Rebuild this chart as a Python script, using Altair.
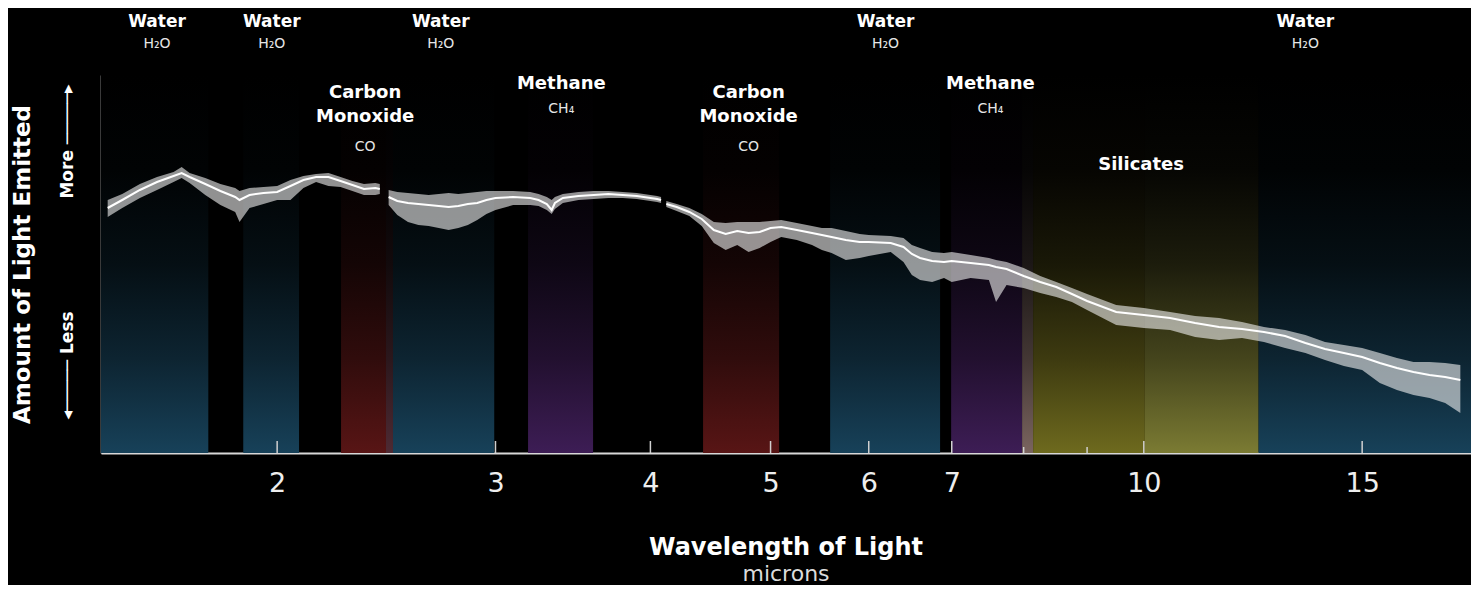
import altair as alt
import pandas as pd

# ---------------- data ----------------
# spectrum, three separate segments (gaps at ~2.45 and ~4.1 microns)
# flux in arbitrary units (0 = bottom of plot, 378 = top)
seg1_um = [1.46, 1.50, 1.55, 1.60, 1.65, 1.675, 1.70, 1.75, 1.80, 1.85, 1.865, 1.90,
           1.95, 2.00, 2.05, 2.10, 2.15, 2.20, 2.25, 2.30, 2.35, 2.40, 2.42]
seg1_mid = [245, 253, 263, 271, 277, 280, 276, 269, 262, 256, 253, 258,
            260, 261, 267, 273, 276, 276, 272, 268, 264, 265, 264]
seg1_hi = [253, 259, 269, 276, 281, 286, 280, 275, 269, 265, 262, 265,
           266, 267, 273, 277, 279, 280, 276, 272, 269, 270, 269]
seg1_lo = [236, 245, 255, 263, 271, 275, 270, 258, 248, 241, 231, 245,
           249, 253, 253, 265, 271, 267, 266, 262, 258, 258, 259]

seg2_um = [2.46, 2.50, 2.55, 2.60, 2.65, 2.70, 2.75, 2.80, 2.85, 2.90, 2.95, 3.00, 3.10,
           3.20, 3.25, 3.30, 3.33, 3.35, 3.40, 3.50, 3.60, 3.70, 3.80, 3.90, 4.00, 4.05, 4.08]
seg2_mid = [256, 252, 250, 249, 248, 247, 246, 247, 249, 250, 253, 255, 256,
            255, 253, 249, 243, 250, 255, 257, 258, 259, 258, 257, 255, 254, 253]
seg2_hi = [263, 261, 260, 259, 258, 259, 260, 259, 260, 261, 262, 262, 262,
           261, 259, 256, 253, 256, 259, 261, 262, 262, 261, 260, 258, 257, 256]
seg2_lo = [248, 238, 231, 228, 227, 225, 223, 225, 228, 233, 239, 243, 248,
           248, 247, 243, 239, 244, 250, 253, 254, 255, 255, 254, 252, 251, 250]

seg3_um = [4.12, 4.20, 4.30, 4.40, 4.50, 4.60, 4.70, 4.80, 4.90, 5.00,
           5.10, 5.25, 5.40, 5.50, 5.60, 5.75, 5.90,
           6.00, 6.25, 6.40, 6.50, 6.60, 6.75, 6.90,
           7.00, 7.25, 7.50, 7.60, 7.75, 8.00, 8.25, 8.50, 8.75,
           9.00, 9.50, 10.0, 10.5, 11.0, 11.5, 12.0, 12.5, 13.0, 13.5, 14.0, 14.5,
           15.0, 15.5, 16.0, 16.5, 17.0, 17.5, 18.0]
seg3_mid = [249, 246, 241, 234, 223, 219, 222, 220, 221, 225,
            226, 223, 220, 218, 216, 213, 211,
            211, 210, 206, 199, 195, 192, 191,
            192, 190, 188, 186, 184, 177, 171, 166, 159,
            152, 141, 138, 135, 130, 126, 124, 121, 117, 110, 104, 100,
            96, 90, 85, 81, 78, 76, 73]
seg3_hi = [252, 249, 245, 239, 231, 230, 231, 231, 231, 232,
           233, 230, 227, 225, 225, 222, 219,
           218, 217, 215, 208, 205, 201, 200,
           201, 198, 195, 193, 191, 185, 177, 171, 165,
           159, 148, 145, 141, 137, 135, 131, 126, 123, 118, 111, 108,
           105, 100, 95, 91, 91, 90, 88]
seg3_lo = [246, 242, 237, 227, 210, 203, 208, 201, 205, 211,
           216, 213, 208, 203, 200, 193, 195,
           197, 201, 191, 178, 173, 171, 175,
           171, 175, 173, 151, 168, 165, 160, 156, 151,
           143, 128, 125, 123, 116, 113, 115, 111, 105, 100, 93, 87,
           83, 70, 63, 58, 55, 50, 40]

# absorption bands (microns)
band_start = [1.442, 1.878, 2.252, 2.448, 2.480, 3.187, 4.411, 5.585, 6.992, 7.977, 8.142, 10.02, 12.37]
band_end = [1.760, 2.083, 2.448, 2.480, 2.993, 3.596, 5.080, 6.850, 7.977, 8.142, 10.02, 12.37, 18.36]
band_kind = ["water", "water", "co", "co_water", "water", "ch4", "co", "water", "ch4",
             "ch4_sil", "sil_a", "sil_b", "water"]

# label positions (microns)
water_label_um = [1.60, 1.98, 2.71, 6.19, 13.5]
co_label_um = [2.355, 4.80]
ch4_label_um = [3.39, 7.52]
sil_label_um = [9.95]

major_ticks = [2, 3, 4, 5, 6, 7, 10, 15]
minor_ticks = [8, 9]

# ---------------- tables ----------------
rows = []
for i, (um, mid, hi, lo) in enumerate([(seg1_um, seg1_mid, seg1_hi, seg1_lo),
                                        (seg2_um, seg2_mid, seg2_hi, seg2_lo),
                                        (seg3_um, seg3_mid, seg3_hi, seg3_lo)]):
    for w, m, h, l in zip(um, mid, hi, lo):
        rows.append({"um": w, "flux": m, "hi": h, "lo": l, "seg": i})
spec = pd.DataFrame(rows)
bands = pd.DataFrame({"start": band_start, "end": band_end, "kind": band_kind})

# ---------------- styles ----------------
FONT = "DejaVu Sans"
kind_colors = {
    "water": "#174159",
    "co": "#581515",
    "co_water": "#4e2a33",
    "ch4": "#3d1d55",
    "ch4_sil": "#7a645f",
    "sil_a": "#6e6a1e",
    "sil_b": "#7b7b33",
}


def shade(hexcol, f):
    r, g, b = (int(hexcol[i:i + 2], 16) for i in (1, 3, 5))
    return "#%02x%02x%02x" % (round(r * f), round(g * f), round(b * f))


def gradient(hexcol):
    stops = [(0, 0.0), (0.25, 0.05), (0.5, 0.23), (0.75, 0.55), (1, 1.0)]
    return alt.LinearGradient(
        gradient="linear",
        stops=[alt.GradientStop(color=shade(hexcol, f), offset=o) for o, f in stops],
        x1=0, x2=0, y1=0, y2=1,
    )


X_SCALE = alt.Scale(type="log", domain=[1.442, 18.36], nice=False)
X_AXIS = alt.Axis(values=major_ticks, format="d", ticks=False, grid=False,
                  domainColor="#d8d8d8", domainWidth=2, labelFontSize=27,
                  labelFont=FONT, labelColor="#eeeeee", labelPadding=17,
                  labelFlush=False, labelOverlap=False, title=None)
Y_SCALE = alt.Scale(domain=[0, 378], nice=False, zero=False)
Y_AXIS = alt.Axis(values=[88, 312],
                  labelExpr="datum.value > 200 ? 'More  \u2500\u2500\u2500\u2500\u2500\u25b8' : '\u25c2\u2500\u2500\u2500\u2500\u2500  Less'",
                  ticks=False, grid=False, domainColor="#e6e6e6", domainWidth=1.5,
                  labelAngle=270, labelAlign="center", labelBaseline="middle",
                  labelPadding=34, labelFont=FONT, labelFontSize=17,
                  labelFontWeight="bold", labelColor="#ffffff", labelOverlap=False,
                  labelFlush=False,
                  title="Amount of Light Emitted", titleFont=FONT, titleFontSize=23,
                  titleFontWeight="bold", titleColor="#ffffff", titleAngle=270,
                  titleX=-79, titleY=189, titleAlign="center", titleBaseline="middle")


def X(field):
    return alt.X(f"{field}:Q", scale=X_SCALE, axis=X_AXIS)


def Y(field):
    return alt.Y(f"{field}:Q", scale=Y_SCALE, axis=Y_AXIS)


layers = []
for kind, col in kind_colors.items():
    layers.append(
        alt.Chart(bands).transform_filter(alt.datum.kind == kind)
        .mark_rect(color=gradient(col))
        .encode(x=X("start"), x2="end:Q")
    )

layers.append(
    alt.Chart(spec).mark_area(color="#f2f2f2", opacity=0.6)
    .encode(x=X("um"), y=Y("lo"), y2="hi:Q", detail="seg:N")
)
layers.append(
    alt.Chart(spec).mark_line(color="#ffffff", strokeWidth=2)
    .encode(x=X("um"), y=Y("flux"), detail="seg:N")
)
layers.append(
    alt.Chart(pd.DataFrame({"um": major_ticks})).mark_rule(color="#d0d0d0", strokeWidth=1.5)
    .encode(x=X("um"), y=alt.Y(datum=0, scale=Y_SCALE, axis=Y_AXIS), y2=alt.Y2(datum=12))
)
layers.append(
    alt.Chart(pd.DataFrame({"um": minor_ticks})).mark_rule(color="#d0d0d0", strokeWidth=1.5)
    .encode(x=X("um"), y=alt.Y(datum=0, scale=Y_SCALE, axis=Y_AXIS), y2=alt.Y2(datum=6))
)


def label(um_list, text, y, size, bold, color="#ffffff", baseline="middle", **kw):
    return alt.Chart(pd.DataFrame({"um": um_list})).mark_text(
        text=text, font=FONT, fontSize=size, fontWeight="bold" if bold else "normal",
        color=color, baseline=baseline, align="center", **kw
    ).encode(x=X("um"), y=alt.value(y))


layers += [
    label(water_label_um, "Water", -53, 17, True),
    label(water_label_um, "H\u2082O", -31, 14, False, "#e6e6e6"),
    label(co_label_um, "Carbon\nMonoxide", 9, 18, True, baseline="top", lineBreak="\n", lineHeight=24),
    label(co_label_um, "CO", 72, 14, False, "#e6e6e6"),
    label(ch4_label_um, "Methane", 9, 18, True),
    label(ch4_label_um, "CH\u2084", 34, 14, False, "#e6e6e6"),
    label(sil_label_um, "Silicates", 90, 18, True),
]

chart = alt.layer(*layers).properties(
    width=1370,
    height=378,
    padding={"left": 93, "top": 67, "right": 0, "bottom": 132},
    autosize=alt.AutoSizeParams(type="none"),
    title=alt.TitleParams(
        text="Wavelength of Light", subtitle="microns", orient="bottom", anchor="middle",
        font=FONT, fontSize=24, fontWeight="bold", color="#ffffff",
        subtitleFont=FONT, subtitleFontSize=22, subtitleFontWeight="normal",
        subtitleColor="#dcdcdc", offset=40, subtitlePadding=4,
    ),
).configure(background="#000000").configure_view(stroke=None)

chart.save("out.html", embed_options={"renderer": "svg", "actions": False})
